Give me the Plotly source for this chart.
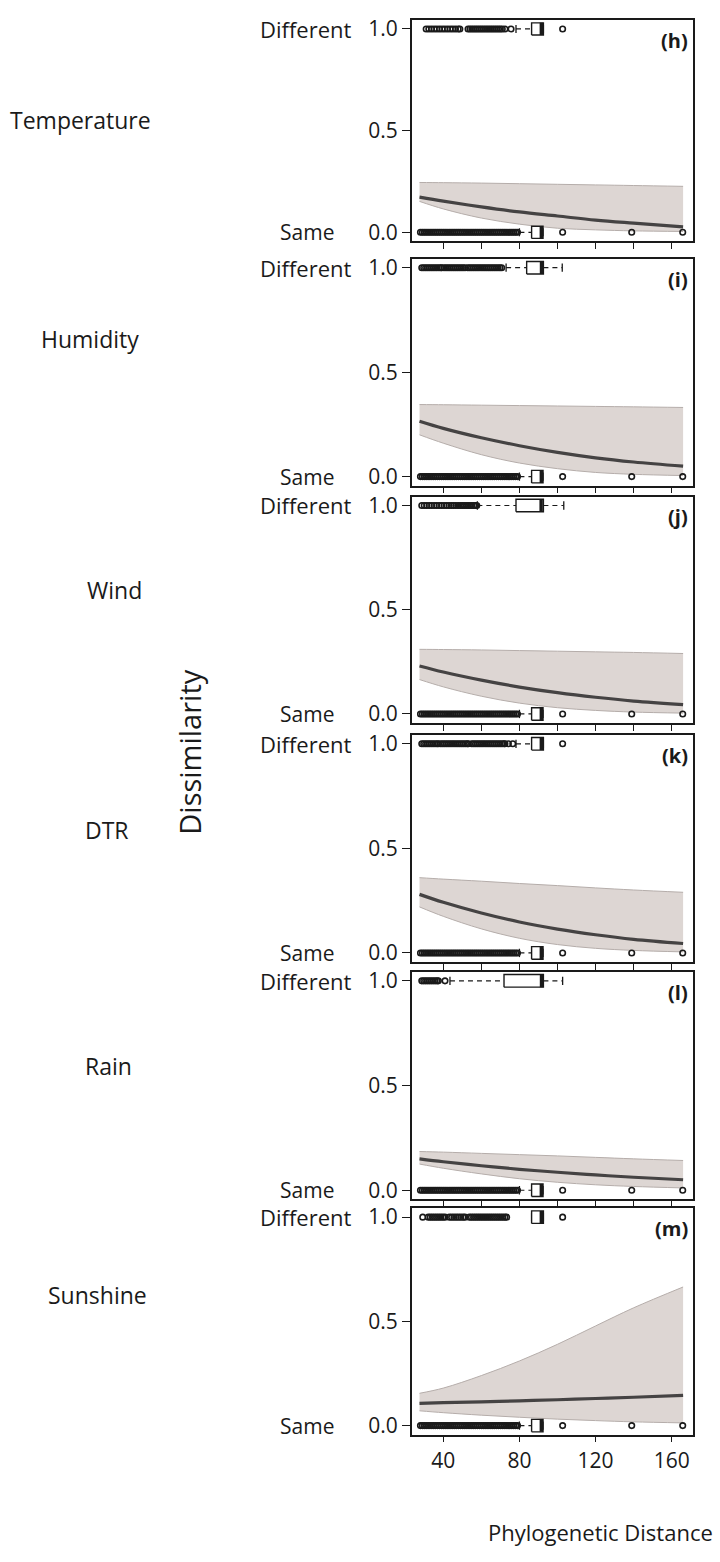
import plotly.graph_objects as go

W, H = 720, 1562
FONT = "Open Sans"
INK = "#1a1a1a"
FIT_COLOR = "#454343"
BAND_FILL = "#ddd6d3"
BAND_EDGE = "#b5adaa"

PANEL_TAGS = ["(h)", "(i)", "(j)", "(k)", "(l)", "(m)"]
ROW_NAMES = ["Temperature", "Humidity", "Wind", "DTR", "Rain", "Sunshine"]

# Phylogenetic distance at which the fitted curve and its band are sampled
CURVE_X = [27.5, 40, 60, 80, 100, 120, 140, 166]

FIT_H = [0.173, 0.153, 0.125, 0.100, 0.080, 0.060, 0.045, 0.027]
UPR_H = [0.245, 0.244, 0.242, 0.239, 0.236, 0.233, 0.230, 0.226]
LWR_H = [0.152, 0.115, 0.070, 0.040, 0.020, 0.012, 0.007, 0.004]

FIT_I = [0.265, 0.231, 0.186, 0.148, 0.116, 0.090, 0.070, 0.050]
UPR_I = [0.345, 0.344, 0.342, 0.340, 0.338, 0.336, 0.334, 0.331]
LWR_I = [0.200, 0.160, 0.105, 0.065, 0.038, 0.020, 0.011, 0.005]

FIT_J = [0.230, 0.201, 0.162, 0.129, 0.102, 0.080, 0.062, 0.045]
UPR_J = [0.310, 0.309, 0.307, 0.304, 0.301, 0.298, 0.295, 0.290]
LWR_J = [0.165, 0.130, 0.085, 0.052, 0.030, 0.017, 0.009, 0.004]

FIT_K = [0.280, 0.242, 0.191, 0.148, 0.114, 0.087, 0.065, 0.045]
UPR_K = [0.360, 0.353, 0.343, 0.332, 0.322, 0.311, 0.301, 0.290]
LWR_K = [0.220, 0.175, 0.115, 0.070, 0.040, 0.022, 0.012, 0.005]

FIT_L = [0.150, 0.136, 0.117, 0.100, 0.086, 0.073, 0.062, 0.050]
UPR_L = [0.185, 0.182, 0.176, 0.170, 0.164, 0.157, 0.150, 0.142]
LWR_L = [0.125, 0.105, 0.078, 0.055, 0.038, 0.026, 0.018, 0.011]

FIT_M = [0.107, 0.110, 0.114, 0.119, 0.124, 0.130, 0.136, 0.145]
UPR_M = [0.155, 0.180, 0.240, 0.310, 0.390, 0.478, 0.565, 0.665]
LWR_M = [0.071, 0.062, 0.050, 0.040, 0.031, 0.024, 0.018, 0.013]

FITS = [FIT_H, FIT_I, FIT_J, FIT_K, FIT_L, FIT_M]
UPPERS = [UPR_H, UPR_I, UPR_J, UPR_K, UPR_L, UPR_M]
LOWERS = [LWR_H, LWR_I, LWR_J, LWR_K, LWR_L, LWR_M]

# Observed distances of pairs coded "Different" (1.0), one list per panel
DIFF_PTS_H = [31.0, 32.4, 33.8, 35.2, 36.6, 38.0, 39.4, 40.8, 42.2, 43.6, 45.0,
              46.4, 47.8, 48.7, 53.0, 54.0, 55.0, 56.0, 57.0, 58.0, 59.0, 60.0,
              61.0, 62.0, 63.0, 64.0, 65.0, 66.0, 67.0, 68.0, 69.0, 70.0, 71.0,
              72.4, 75.6, 102.7]
DIFF_PTS_I = [28.7, 29.7, 30.7, 31.7, 32.7, 33.7, 34.7, 35.7, 36.7, 37.7, 38.7,
              39.2, 40.4, 41.4, 42.4, 43.4, 44.4, 45.4, 46.4, 47.4, 48.4, 49.4,
              50.4, 51.4, 52.8, 53.8, 54.8, 55.8, 56.8, 57.8, 58.8, 59.8, 60.8,
              61.8, 62.8, 63.8, 64.8, 65.8, 66.8, 67.8, 68.8, 69.8, 70.7]
DIFF_PTS_J = [28.7, 30.0, 31.3, 32.6, 33.9, 35.2, 36.5, 37.8, 39.1, 40.4, 41.7,
              43.0, 44.2, 45.4, 46.6, 47.8, 49.0, 50.0, 51.0, 52.0, 53.0, 54.0,
              55.0, 56.0, 57.0, 57.6]
DIFF_PTS_K = [28.7, 29.7, 30.7, 31.7, 32.7, 33.7, 34.7, 35.7, 36.7, 37.4, 38.6,
              39.6, 40.6, 41.6, 42.6, 43.6, 44.6, 45.6, 46.6, 47.6, 48.6, 49.6,
              50.6, 51.6, 52.6, 53.1, 54.9, 55.9, 56.9, 57.9, 58.9, 59.9, 60.9,
              61.9, 62.9, 63.9, 64.9, 65.9, 66.9, 67.9, 68.9, 69.9, 70.9, 71.9,
              72.4, 74.2, 76.5, 102.7]
DIFF_PTS_L = [28.7, 29.7, 30.7, 31.7, 32.7, 33.7, 34.7, 35.7, 36.7, 37.4, 40.9]
DIFF_PTS_M = [29.2, 32.1, 33.2, 34.3, 35.4, 36.5, 37.6, 38.7, 39.8, 40.9, 43.2,
              44.4, 45.6, 46.8, 48.0, 49.2, 50.4, 51.4, 53.7, 54.8, 55.9, 57.0,
              58.1, 59.2, 60.3, 61.4, 62.5, 63.6, 64.7, 65.8, 66.9, 68.0, 69.1,
              70.2, 71.3, 72.4, 73.3, 102.7]
DIFF_PTS = [DIFF_PTS_H, DIFF_PTS_I, DIFF_PTS_J, DIFF_PTS_K, DIFF_PTS_L, DIFF_PTS_M]

# Distances of pairs coded "Same" (0.0); the pattern repeats in every panel
SAME_PTS = [28, 29, 30, 31, 32, 33, 34, 35, 36, 37, 38, 39, 40, 41, 42, 43, 44,
            45, 46, 47, 48, 49, 50, 51, 52, 53, 54, 55, 56, 57, 58, 59, 60, 61,
            62, 63, 64, 65, 66, 67, 68, 69, 70, 71, 72, 73, 74, 75, 76, 77, 78,
            79, 102.7, 139.0, 165.8]

# Box-plot summaries along the "Different" rows (panels h..m)
DIFF_Q1 = [86.4, 83.8, 78.2, 86.4, 71.9, 86.4]
DIFF_MED = [91.5, 91.6, 91.4, 91.5, 91.6, 91.5]
DIFF_Q3 = [92.6, 92.6, 92.6, 92.6, 92.6, 92.6]
DIFF_LO = [78.2, 73.0, 57.9, 78.2, 43.5, 86.4]
DIFF_HI = [92.6, 102.5, 103.3, 92.6, 102.7, 92.6]

# Box-plot summary along the "Same" rows
SAME_Q1, SAME_MED, SAME_Q3, SAME_LO, SAME_HI = 86.4, 91.5, 92.4, 80.0, 92.4

X_RANGE = [23.4, 171.2]
Y_RANGE = [-0.043, 1.043]

# page layout (pixels)
PLOT_LEFT, PLOT_RIGHT = 411.7, 693.0
PANEL_TOP = [14.3, 254.5, 494.0, 734.0, 972.7, 1210.7]
PANEL_BOTTOM = [236.7, 483.0, 722.0, 962.7, 1201.7, 1438.7]
ROW_LABEL_XY = [(80, 115), (90, 335), (114, 588), (107, 830), (108, 1068), (97, 1298)]

BOX_HALF = 0.03
CAP_HALF = 0.02


def px_x(px):
    return px / W


def px_y(py):
    return 1 - py / H


fig = go.Figure()
annotations = []
layout = {}

for p in range(6):
    n = "" if p == 0 else str(p + 1)
    xa, ya = "x" + n, "y" + n
    last = p == 5

    layout["xaxis" + n] = dict(
        domain=[px_x(PLOT_LEFT), px_x(PLOT_RIGHT)], anchor=ya, range=X_RANGE,
        tickvals=[40, 80, 120, 160] if last else [40, 60, 80, 100, 120, 140, 160],
        showticklabels=last, ticks="outside", ticklen=6, tickwidth=1.2,
        tickcolor=INK, showline=True, mirror=True, linecolor=INK, linewidth=1.6,
        showgrid=False, zeroline=False,
        tickfont=dict(family=FONT, size=21, color=INK),
    )
    layout["yaxis" + n] = dict(
        domain=[px_y(PANEL_BOTTOM[p]), px_y(PANEL_TOP[p])], anchor=xa, range=Y_RANGE,
        tickvals=[0, 0.5, 1], ticktext=["0.0", "0.5", "1.0"],
        ticks="outside", ticklen=8, tickwidth=1.2, tickcolor=INK,
        showline=True, mirror=True, linecolor=INK, linewidth=1.6,
        showgrid=False, zeroline=False,
        tickfont=dict(family=FONT, size=21, color=INK),
    )

    # confidence band
    fig.add_trace(go.Scatter(
        x=CURVE_X, y=LOWERS[p], xaxis=xa, yaxis=ya, mode="lines",
        line=dict(color=BAND_EDGE, width=1, shape="spline"), hoverinfo="skip",
        showlegend=False))
    fig.add_trace(go.Scatter(
        x=CURVE_X, y=UPPERS[p], xaxis=xa, yaxis=ya, mode="lines",
        line=dict(color=BAND_EDGE, width=1, shape="spline"), fill="tonexty",
        fillcolor=BAND_FILL, hoverinfo="skip", showlegend=False))
    # fitted curve
    fig.add_trace(go.Scatter(
        x=CURVE_X, y=FITS[p], xaxis=xa, yaxis=ya, mode="lines",
        line=dict(color=FIT_COLOR, width=3.2, shape="spline"), showlegend=False))

    rows = [
        (1.0, DIFF_Q1[p], DIFF_MED[p], DIFF_Q3[p], DIFF_LO[p], DIFF_HI[p], DIFF_PTS[p]),
        (0.0, SAME_Q1, SAME_MED, SAME_Q3, SAME_LO, SAME_HI, SAME_PTS),
    ]
    for yc, q1, med, q3, lo, hi, pts in rows:
        # individual observations beyond the whiskers
        fig.add_trace(go.Scatter(
            x=pts, y=[yc] * len(pts), xaxis=xa, yaxis=ya, mode="markers",
            marker=dict(symbol="circle-open", size=5.5, color=INK, line=dict(width=1.6)),
            showlegend=False))
        # dashed whiskers
        wx, wy = [], []
        if lo < q1:
            wx += [lo, q1, None]
            wy += [yc, yc, None]
        if hi > q3:
            wx += [q3, hi, None]
            wy += [yc, yc, None]
        if wx:
            fig.add_trace(go.Scatter(
                x=wx, y=wy, xaxis=xa, yaxis=ya, mode="lines",
                line=dict(color=INK, width=1.2, dash="5px,4px"), showlegend=False))
        # whisker staples
        fig.add_trace(go.Scatter(
            x=[lo, lo, None, hi, hi], y=[yc - CAP_HALF, yc + CAP_HALF, None,
                                         yc - CAP_HALF, yc + CAP_HALF],
            xaxis=xa, yaxis=ya, mode="lines", line=dict(color=INK, width=1.3),
            showlegend=False))
        # box
        fig.add_trace(go.Scatter(
            x=[q1, q3, q3, q1, q1],
            y=[yc - BOX_HALF, yc - BOX_HALF, yc + BOX_HALF, yc + BOX_HALF, yc - BOX_HALF],
            xaxis=xa, yaxis=ya, mode="lines", fill="toself", fillcolor="white",
            line=dict(color=INK, width=1.4), showlegend=False))
        # median
        fig.add_trace(go.Scatter(
            x=[med, med], y=[yc - BOX_HALF, yc + BOX_HALF], xaxis=xa, yaxis=ya,
            mode="lines", line=dict(color=INK, width=3.4), showlegend=False))

    # response level names next to the tick labels
    annotations.append(dict(text="Different", xref="paper", yref=ya, x=px_x(354),
                            y=1.0, xanchor="right", yanchor="middle", showarrow=False,
                            font=dict(family=FONT, size=22, color=INK)))
    annotations.append(dict(text="Same", xref="paper", yref=ya, x=px_x(336),
                            y=0.0, xanchor="right", yanchor="middle", showarrow=False,
                            font=dict(family=FONT, size=21, color=INK)))
    # panel tag
    annotations.append(dict(text="<b>" + PANEL_TAGS[p] + "</b>", xref="paper",
                            yref="paper", x=px_x(690), y=px_y(PANEL_TOP[p] + 5),
                            xanchor="right", yanchor="top", showarrow=False,
                            font=dict(family=FONT, size=20, color=INK)))
    # climate variable name
    cx, cy = ROW_LABEL_XY[p]
    annotations.append(dict(text=ROW_NAMES[p], xref="paper", yref="paper",
                            x=px_x(cx), y=px_y(cy), xanchor="center",
                            yanchor="middle", showarrow=False,
                            font=dict(family=FONT, size=23, color=INK)))

annotations.append(dict(text="Dissimilarity", xref="paper", yref="paper",
                        x=px_x(190), y=px_y(752), textangle=-90, xanchor="center",
                        yanchor="middle", showarrow=False,
                        font=dict(family=FONT, size=29, color=INK)))
annotations.append(dict(text="Phylogenetic Distance", xref="paper", yref="paper",
                        x=px_x(600), y=px_y(1537), xanchor="center",
                        yanchor="middle", showarrow=False,
                        font=dict(family=FONT, size=22, color=INK)))

fig.update_layout(
    width=W, height=H, margin=dict(l=0, r=0, t=0, b=0),
    paper_bgcolor="white", plot_bgcolor="white", showlegend=False,
    annotations=annotations, **layout,
)

fig.write_html("out.html")
